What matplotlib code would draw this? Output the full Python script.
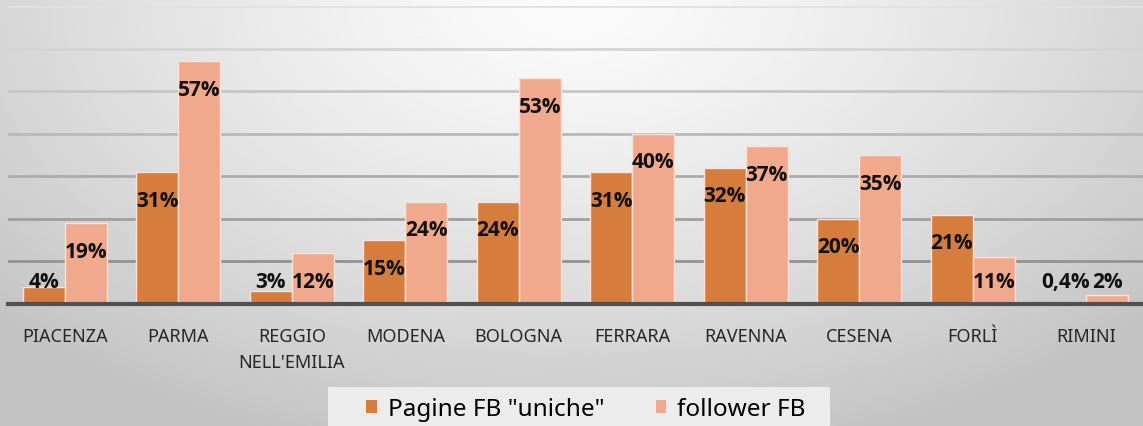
import numpy as np
import matplotlib
matplotlib.use('Agg')
import matplotlib.pyplot as plt
from matplotlib.patches import Rectangle

cities = ['PIACENZA', 'PARMA', 'REGGIO\nNELL\'EMILIA', 'MODENA', 'BOLOGNA',
          'FERRARA', 'RAVENNA', 'CESENA', 'FORLÌ', 'RIMINI']
pagine = [4, 31, 3, 15, 24, 31, 32, 20, 21, 0.4]
follower = [19, 57, 12, 24, 53, 40, 37, 35, 11, 2]
series_names = ['Pagine FB "uniche"', 'follower FB']

c_orange = '#D67D3E'
c_pink = '#F1A98D'

plt.rcParams['font.family'] = ['Noto Sans', 'DejaVu Sans']

fig = plt.figure(figsize=(11.43, 4.27), dpi=100)

# radial gray background
bg = fig.add_axes([0, 0, 1, 1], zorder=-10)
yy, xx = np.mgrid[0:1:200j, 0:1:500j]
d = np.sqrt(((xx - 0.5) * 1.6) ** 2 + (yy * 1.0) ** 2)
shade = 0.985 - 0.22 * np.clip(d / 1.1, 0, 1) ** 1.3
bg.imshow(shade, cmap='gray', vmin=0, vmax=1, aspect='auto', extent=[0, 1, 1, 0])
bg.axis('off')
# legend background panel
bg.add_patch(Rectangle((328 / 1143, 1 - 427 / 427), (830 - 328) / 1143, (427 - 388) / 427,
                       transform=bg.transAxes, facecolor='#ececec', edgecolor='none'))

ax = fig.add_axes([8 / 1143, 122 / 427, 1 - 8 / 1143, 1 - 129 / 427])
ax.patch.set_alpha(0)

x = np.arange(len(cities))
w = 0.37
b1 = ax.bar(x - w / 2, pagine, w, color=c_orange, edgecolor='#FBE2D4', linewidth=1, zorder=3, label=series_names[0])
b2 = ax.bar(x + w / 2, follower, w, color=c_pink, edgecolor='#FBE2D4', linewidth=1, zorder=3, label=series_names[1])

def fmt(v):
    if v == int(v):
        return '%d%%' % v
    return ('%.1f' % v).replace('.', ',') + '%'

for bars, vals in ((b1, pagine), (b2, follower)):
    for r, v in zip(bars, vals):
        ax.text(r.get_x() + r.get_width() / 2, max(v - 6.6, 5.2), fmt(v),
                ha='center', va='center', fontsize=15, fontweight='bold',
                family=['Open Sans', 'DejaVu Sans'], color='#111111', zorder=5)

ax.set_xlim(-0.5, len(cities) - 0.5)
ax.set_ylim(0, 70)
ax.set_yticks(np.arange(0, 71, 10))
ax.yaxis.grid(True, linewidth=2, zorder=0)
gl = ax.get_ygridlines()
for i, g in enumerate(gl):
    t = i / (len(gl) - 1)
    g.set_color(plt.cm.gray(0.52 + 0.36 * t))
ax.tick_params(axis='y', left=False, labelleft=False)
ax.tick_params(axis='x', bottom=False, pad=13)
ax.set_xticks(x)
ax.set_xticklabels(cities, fontsize=13, color='#262626', linespacing=1.6)
for s in ['top', 'right', 'left']:
    ax.spines[s].set_visible(False)
ax.spines['bottom'].set_color('#505050')
ax.spines['bottom'].set_linewidth(3)
ax.spines['bottom'].set_zorder(4)

leg = fig.legend(handles=[b1, b2], loc='center', bbox_to_anchor=(586 / 1143, 1 - 410 / 427),
                 ncol=2, frameon=False, fontsize=17.5, handlelength=0.45,
                 handleheight=0.45, handletextpad=0.45, columnspacing=2.1,
                 borderaxespad=0)
for h in leg.legend_handles:
    h.set_edgecolor('none')

fig.savefig('out.png', dpi=100)
